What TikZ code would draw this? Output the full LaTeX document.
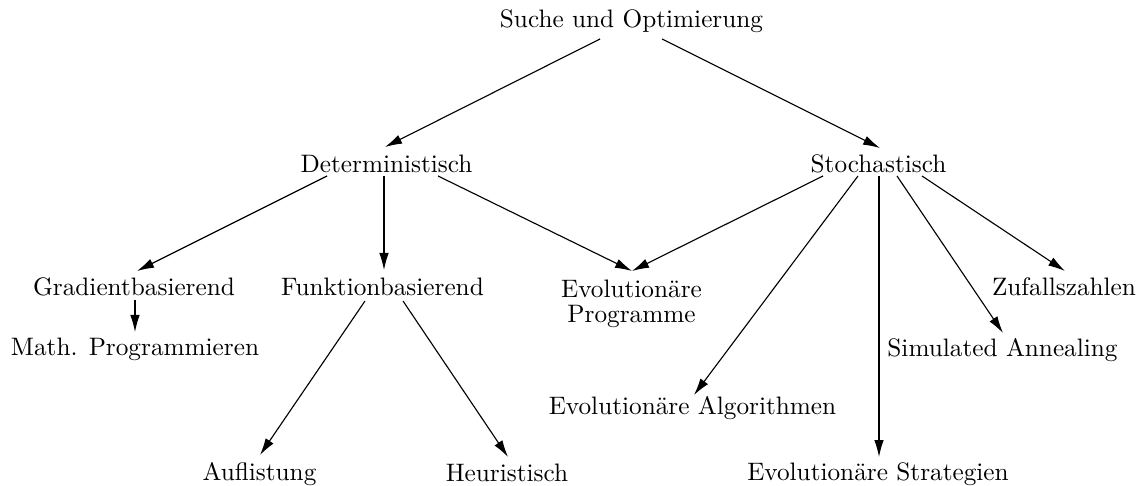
\documentclass[tikz,border=0pt]{standalone}
\usetikzlibrary{arrows.meta}
\begin{document}
\begin{tikzpicture}[x=0.4pt,y=-0.4pt,
  lbl/.style={inner sep=0pt,anchor=base,font=\fontsize{10.1}{9.8}\selectfont},
  arr/.style={line width=0.45pt,-{Latex[length=6.8pt,width=3.8pt]}}]
\useasboundingbox (0,0) rectangle (1141,486);
\node[lbl] (suche) at (631.5,28) {Suche und Optimierung};
\node[lbl] (det) at (386.5,173) {Deterministisch};
\node[lbl] (stoch) at (878.5,173) {Stochastisch};
\node[lbl] (grad) at (134,296) {Gradientbasierend};
\node[lbl] (funk) at (382.5,296) {Funktionbasierend};
\node[lbl,anchor=north,align=center] (evprog) at (631.5,279.6) {Evolutionäre\\Programme};
\node[lbl] (zuf) at (1064,296) {Zufallszahlen};
\node[lbl] (math) at (135,355) {Math. Programmieren};
\node[lbl] (sim) at (1002.5,356) {Simulated Annealing};
\node[lbl] (evalg) at (692.5,415) {Evolutionäre Algorithmen};
\node[lbl] (aufl) at (259.5,480.5) {Auflistung};
\node[lbl] (heur) at (507,481) {Heuristisch};
\node[lbl] (evstrat) at (878,480) {Evolutionäre Strategien};
\draw[arr] ([shift={(-31.5,11)}]suche.base) -- ([shift={(-1.5,-26)}]det.base);
\draw[arr] ([shift={(30.5,11)}]suche.base) -- ([shift={(1.5,-25)}]stoch.base);
\draw[arr] ([shift={(-59.5,3)}]det.base) -- ([shift={(3,-25)}]grad.base);
\draw[arr] ([shift={(-2.5,3)}]det.base) -- ([shift={(1.5,-26)}]funk.base);
\draw[arr] ([shift={(51.5,3)}]det.base) -- ([shift={(0.5,-8.6)}]evprog.north);
\draw[arr] ([shift={(-55.5,3)}]stoch.base) -- ([shift={(0.5,-8.6)}]evprog.north);
\draw[arr] ([shift={(-20.5,3)}]stoch.base) -- ([shift={(1.5,-20)}]evalg.base);
\draw[arr] ([shift={(0.5,3)}]stoch.base) -- ([shift={(1,-23)}]evstrat.base);
\draw[arr] ([shift={(18.5,3)}]stoch.base) -- ([shift={(0.5,-23)}]sim.base);
\draw[arr] ([shift={(43.5,3)}]stoch.base) -- ([shift={(1,-25)}]zuf.base);
\draw[arr] ([shift={(1,4)}]grad.base) -- ([shift={(0,-23)}]math.base);
\draw[arr] ([shift={(-17.5,5)}]funk.base) -- ([shift={(0.5,-25.5)}]aufl.base);
\draw[arr] ([shift={(20.5,5)}]funk.base) -- ([shift={(1,-24)}]heur.base);
\end{tikzpicture}
\end{document}
